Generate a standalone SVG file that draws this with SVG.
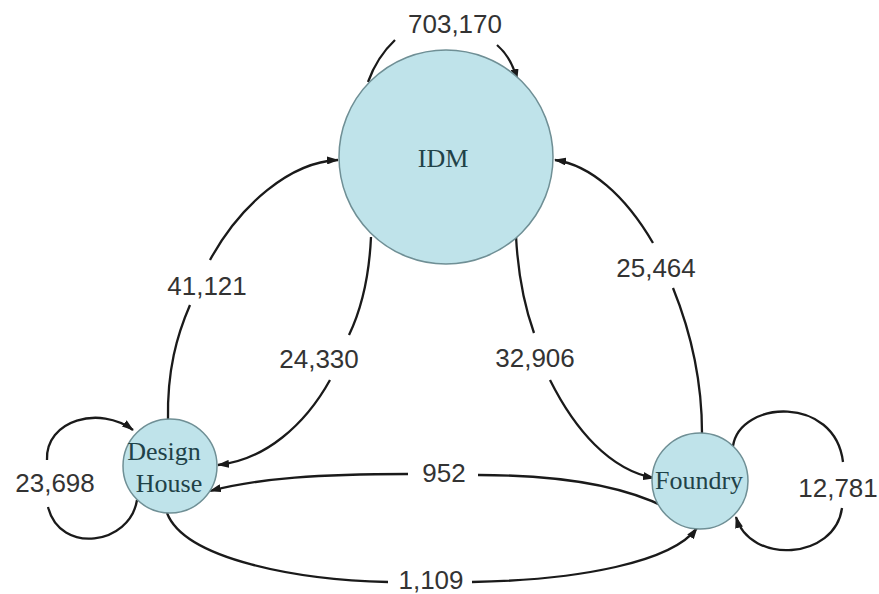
<svg xmlns="http://www.w3.org/2000/svg" width="879" height="594" viewBox="0 0 879 594">
<style>
.node{fill:#bfe3ea;stroke:#6f8f95;stroke-width:1.5}
.nl{font-family:"Liberation Serif",serif;font-size:26px;fill:#1f4248;text-anchor:middle}
.el{font-family:"Liberation Sans",Arial,sans-serif;font-size:26px;fill:#333;text-anchor:middle}
.e{fill:none;stroke:#1a1a1a;stroke-width:2.3}
</style>
<defs>
<marker id="ah" markerUnits="userSpaceOnUse" markerWidth="12" markerHeight="8" refX="11" refY="4" orient="auto">
<path d="M0,0 L12,4 L0,8 z" fill="#1a1a1a"/>
</marker>
</defs>
<rect width="879" height="594" fill="#fff"/>
<g id="connectors">
<path class="e" d="M368,82 Q377,57 395,40"/>
<path class="e" d="M497,45 Q512,58 517,80" marker-end="url(#ah)"/>
<path class="e" d="M168,420 C167,370 177,335 190,305"/>
<path class="e" d="M210,260 C240,205 290,162 338,160" marker-end="url(#ah)"/>
<path class="e" d="M371,237 C369,280 361,310 349,335"/>
<path class="e" d="M330,380 C305,425 265,460 218,465" marker-end="url(#ah)"/>
<path class="e" d="M516,236 C518,275 524,305 534,333"/>
<path class="e" d="M550,380 C575,430 610,470 654,478" marker-end="url(#ah)"/>
<path class="e" d="M702,433 C702,380 690,330 673,288"/>
<path class="e" d="M653,243 C625,195 590,165 555,160" marker-end="url(#ah)"/>
<path class="e" d="M667,508 C620,484 550,475 478,475"/>
<path class="e" d="M408,474 C320,474 260,478 210,491" marker-end="url(#ah)"/>
<path class="e" d="M167,513 C185,560 300,580 388,582"/>
<path class="e" d="M472,582 C580,580 672,562 697,528" marker-end="url(#ah)"/>
<path class="e" d="M47,460 C45,420 100,405 133,430" marker-end="url(#ah)"/>
<path class="e" d="M137,500 C130,545 60,555 48,507"/>
<path class="e" d="M733,446 C740,400 835,395 843,462"/>
<path class="e" d="M842,508 C835,560 750,565 736,517" marker-end="url(#ah)"/>
</g>
<g id="node-idm">
<circle class="node" cx="446" cy="157" r="107"/>
<text class="nl" x="443" y="167" font-size="24">IDM</text>
</g>
<g id="node-design-house">
<circle class="node" cx="170" cy="466" r="47"/>
<text class="nl" x="164" y="460">Design</text>
<text class="nl" x="169" y="492">House</text>
</g>
<g id="node-foundry">
<circle class="node" cx="700" cy="481" r="48"/>
<text class="nl" x="699" y="489">Foundry</text>
</g>
<g id="labels">
<text class="el" x="455" y="33">703,170</text>
<text class="el" x="207" y="295">41,121</text>
<text class="el" x="319" y="368">24,330</text>
<text class="el" x="535" y="367">32,906</text>
<text class="el" x="656" y="277">25,464</text>
<text class="el" x="444" y="482">952</text>
<text class="el" x="431" y="589">1,109</text>
<text class="el" x="55" y="492">23,698</text>
<text class="el" x="838" y="497">12,781</text>
</g>
</svg>
